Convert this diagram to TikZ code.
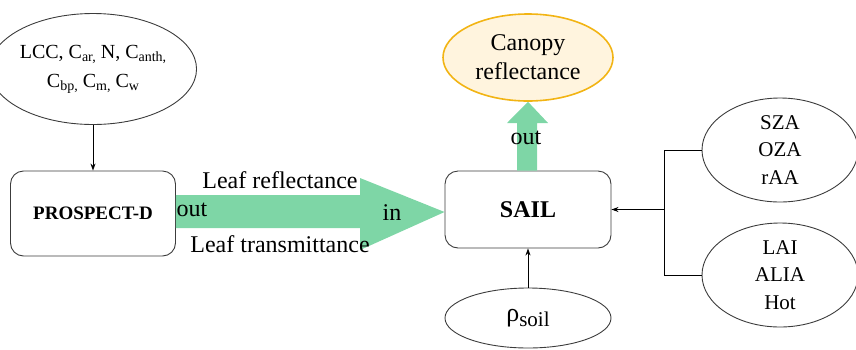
\documentclass[tikz,border=0pt]{standalone}
\usepackage{fontspec}
\setmainfont{Liberation Serif}
\usetikzlibrary{shapes.geometric,arrows.meta,calc}
\definecolor{flowgreen}{RGB}{126,214,166}
\definecolor{canopyedge}{RGB}{242,180,20}
\definecolor{canopyfill}{RGB}{255,244,222}
\definecolor{edgegray}{RGB}{60,60,60}
\begin{document}
\begin{tikzpicture}[x=1pt,y=-1pt,
  oval/.style={ellipse,draw=edgegray,line width=0.9pt,inner sep=0pt,align=center},
  model/.style={rectangle,rounded corners=13pt,draw=edgegray,line width=0.9pt,inner sep=0pt},
  conn/.style={draw=black,line width=0.8pt},
  tip/.style={-{Stealth[length=7pt,width=5pt]}},
  flow/.style={fill=flowgreen,draw=none},
  lbl/.style={inner sep=0pt,font=\fontsize{24}{27}\selectfont}]
\useasboundingbox (0,0) rectangle (856,349);
\newcommand{\subsc}[1]{\raisebox{-0.35ex}{\fontsize{14}{14}\selectfont #1}}
% nodes
\node[oval,minimum width=170pt,minimum height=111pt,font=\fontsize{20}{29}\selectfont] (params) at (93,69)
  {LCC, C\subsc{ar,} N, C\subsc{anth,}\\C\subsc{bp,} C\subsc{m,} C\subsc{w}};
\node[model,minimum width=165pt,minimum height=85pt,font=\fontsize{19}{22}\selectfont\bfseries] (pd) at (93,213.5) {PROSPECT-D};
\node[model,minimum width=166pt,minimum height=77pt,font=\fontsize{24}{27}\selectfont\bfseries] (sail) at (528,209.5) {SAIL};
\node[ellipse,draw=canopyedge,fill=canopyfill,line width=1.6pt,inner sep=0pt,align=center,
  minimum width=170pt,minimum height=87pt,font=\fontsize{24}{29}\selectfont] (canopy) at (528,57.5) {Canopy\\reflectance};
\node[oval,minimum width=166pt,minimum height=60pt,font=\fontsize{26}{28}\selectfont] (soil) at (528,318)
  {ρ\raisebox{-0.45ex}{\fontsize{21}{21}\selectfont soil}};
\node[oval,minimum width=156pt,minimum height=104pt,font=\fontsize{21}{27.5}\selectfont] (geo) at (780,150) {SZA\\OZA\\rAA};
\node[oval,minimum width=156pt,minimum height=104pt,font=\fontsize{21}{27.5}\selectfont] (struct) at (780,275) {LAI\\ALIA\\Hot};
% flows
\fill[flow] (pd.east |- 0,195) -- (360,195) -- (360,178) -- (sail.west |- 0,212)
  -- (360,250) -- (360,228) -- (pd.east |- 0,228) -- cycle;
\fill[flow] (517,0 |- sail.north) -- (517,123) -- (507,123) -- (canopy.south)
  -- (548,123) -- (537,123) -- (537,0 |- sail.north) -- cycle;
% labels
\node[lbl,anchor=base] (lr) at (280,188) {Leaf reflectance};
\node[lbl,anchor=base] (lt) at (280,252) {Leaf transmittance};
\node[lbl,anchor=base] (out1) at (192,216) {out};
\node[lbl,anchor=base] (in1) at (392,220) {in};
\node[lbl,anchor=base] (out2) at (526,144) {out};
% connectors
\draw[conn,tip] (params.south) -- (pd.north);
\draw[conn,tip] (soil.north) -- (sail.south);
\coordinate (j) at (664,209.5);
\draw[conn] (geo.west) -- (geo.west -| j) -- (struct.west -| j) -- (struct.west);
\draw[conn,tip] (j) -- (sail.east);
\end{tikzpicture}
\end{document}
